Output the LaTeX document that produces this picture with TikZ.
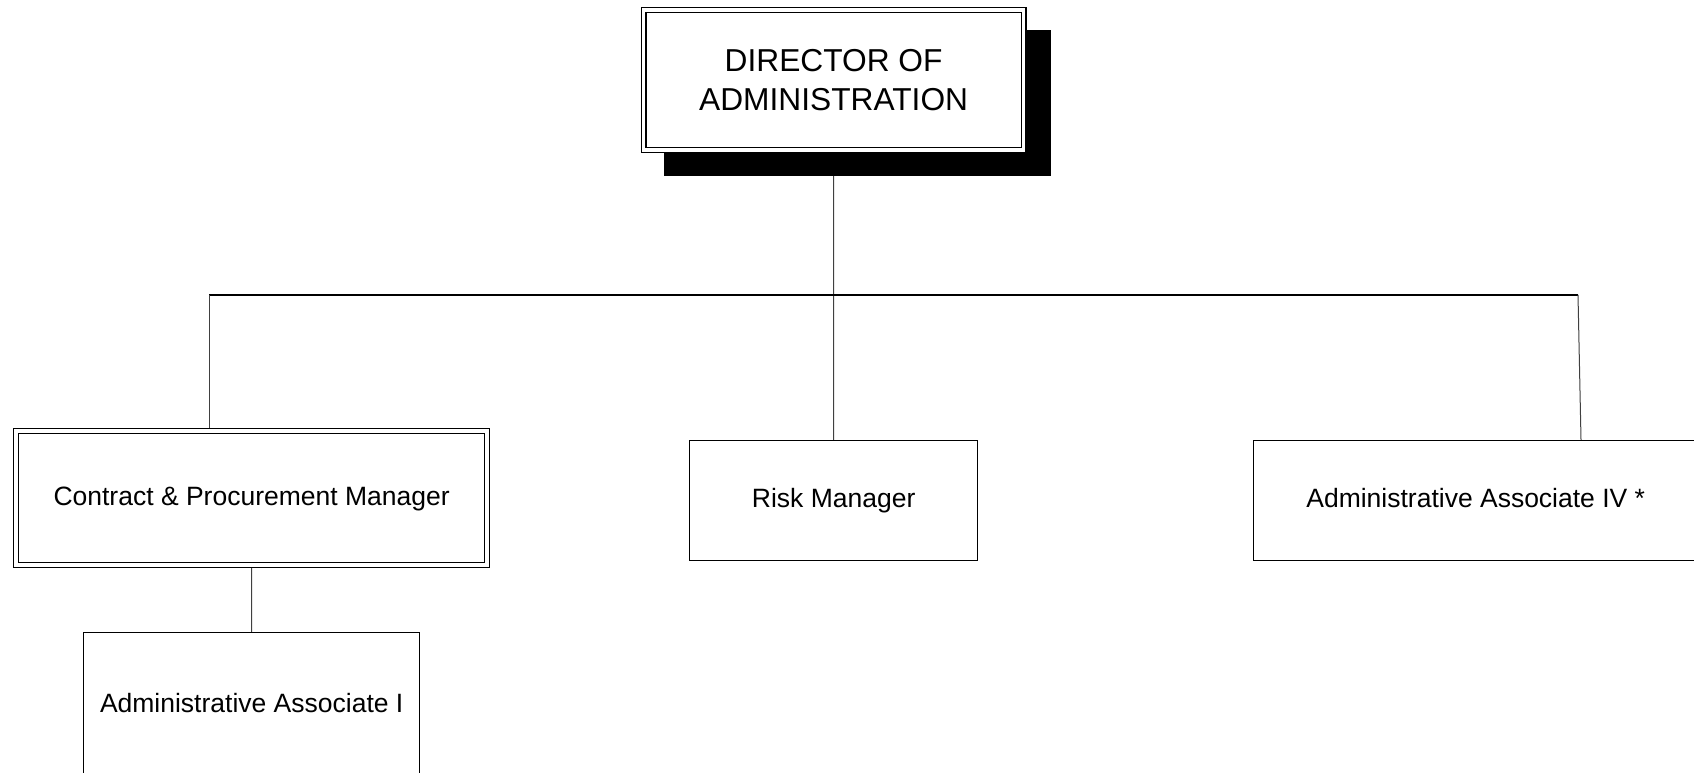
\documentclass[tikz,border=0pt]{standalone}
\usepackage{fontspec}
\setmainfont{Liberation Sans}
\usetikzlibrary{backgrounds}
\begin{document}
\begin{tikzpicture}[x=1pt,y=-1pt,
  box/.style={draw, line width=1.4pt, fill=white, inner sep=0pt, anchor=north west,
    font=\fontsize{26.5}{32}\selectfont, text height=19.4pt, text depth=5.6pt},
  dbl/.style={box, double, double distance=3.5pt, line width=1.25pt},
  conn/.style={line width=1pt, draw=black!75},
  bus/.style={line width=1.6pt}]
\useasboundingbox (0,0) rectangle (1694,773);
% shadow of the top box
\fill[black] (664,30) rectangle (1051,176);
\node[dbl, minimum width=380pt, minimum height=140pt, align=center,
  font=\fontsize{31.7}{38.6}\selectfont, text height=, text depth=] (dir) at (643,9.5)
  {DIRECTOR OF\\ADMINISTRATION};
\node[dbl, minimum width=471pt, minimum height=134pt] (cpm) at (15.5,430.5)
  {Contract \& Procurement Manager};
\node[box, minimum width=288pt, minimum height=120pt] (risk) at (689,440) {Risk Manager};
\node[box, minimum width=444pt, minimum height=120pt] (aa4) at (1253,440)
  {Administrative Associate IV *};
\node[box, minimum width=336pt, minimum height=146pt] (aa1) at (83,632)
  {Administrative Associate I};
% connectors
\coordinate (busL) at (209,295);
\coordinate (busR) at (1578,295);
\begin{scope}[on background layer]
\draw[conn] (dir.south) -- (risk.north);
\draw[bus] (busL) -- (busR);
\draw[conn] (busL) -- (cpm.north -| busL);
\draw[conn] (busR) -- ([xshift=3pt]aa4.north -| busR);
\draw[conn] (cpm.south) -- (aa1.north);
\end{scope}
\end{tikzpicture}
\end{document}
